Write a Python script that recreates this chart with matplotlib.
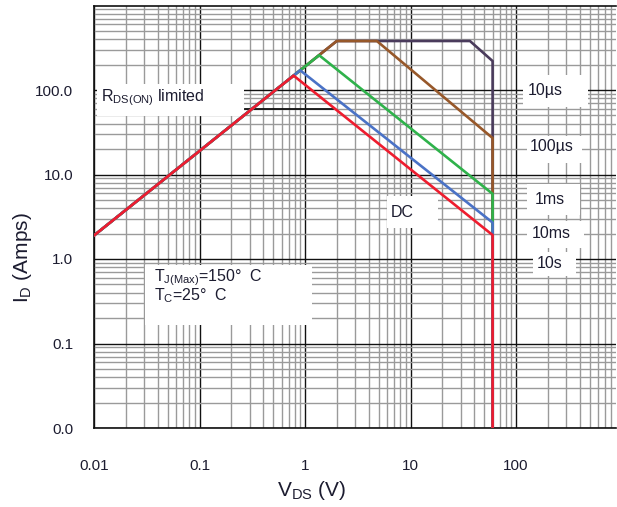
import matplotlib
matplotlib.use("Agg")
import matplotlib.pyplot as plt
from matplotlib.patches import Rectangle
from matplotlib.ticker import FixedLocator, FixedFormatter, LogLocator, NullFormatter

plt.rcParams['font.family'] = ['Liberation Sans', 'DejaVu Sans']
plt.rcParams['mathtext.fontset'] = 'custom'
plt.rcParams['mathtext.rm'] = 'Liberation Sans'
plt.rcParams['mathtext.it'] = 'Liberation Sans'

# ---- data (V_DS in volts, I_D in amps) ----
dc_v = [0.01, 0.78, 60, 60]
dc_i = [1.9, 148, 1.92, 0.01]
ms10_v = [0.01, 0.9, 60, 60]
ms10_i = [1.9, 171, 2.7, 0.01]
ms1_v = [0.01, 1.36, 60, 60]
ms1_i = [1.9, 258, 5.9, 0.01]
us100_v = [0.01, 2.0, 4.8, 60, 60]
us100_i = [1.9, 380, 380, 27, 0.01]
us10_v = [0.01, 2.0, 36.6, 60, 60]
us10_i = [1.9, 380, 380, 220, 0.01]
marker_v = [0.27, 1.84]
marker_i = [59, 59]

x_ticks = [0.01, 0.1, 1, 10, 100]
x_labels = ['0.01', '0.1', '1', '10', '100']
y_ticks = [0.01, 0.1, 1, 10, 100]
y_labels = ['0.0', '0.1', '1.0', '10.0', '100.0']

W, H = 617, 507
fig = plt.figure(figsize=(W / 100, H / 100), dpi=100)

def fx(px):
    return px / W

def fy(py):
    return 1 - py / H

ax_l, ax_r, ax_t, ax_b = 94, 616, 5.5, 428
ax = fig.add_axes([fx(ax_l), fy(ax_b), fx(ax_r - ax_l), (ax_b - ax_t) / H])
ax.set_xscale('log')
ax.set_yscale('log')
ax.set_xlim(0.01, 0.01 * 10 ** ((ax_r - ax_l) / 105.5))
ax.set_ylim(0.01, 1000)

ax.xaxis.set_major_locator(FixedLocator(x_ticks))
ax.xaxis.set_major_formatter(FixedFormatter(x_labels))
ax.yaxis.set_major_locator(FixedLocator(y_ticks))
ax.yaxis.set_major_formatter(FixedFormatter(y_labels))
ax.xaxis.set_minor_locator(LogLocator(base=10, subs=range(2, 10), numticks=20))
ax.yaxis.set_minor_locator(LogLocator(base=10, subs=range(2, 10), numticks=20))
ax.xaxis.set_minor_formatter(NullFormatter())
ax.yaxis.set_minor_formatter(NullFormatter())

txt_col = '#1c1c30'
ax.tick_params(which='both', length=0)
ax.tick_params(axis='x', pad=22, labelsize=11, labelcolor=txt_col)
ax.tick_params(axis='y', pad=15, labelsize=11, labelcolor=txt_col)

ax.set_axisbelow(True)
ax.grid(which='minor', color='#9a9a9a', linewidth=1.0)
ax.grid(which='major', color='#111111', linewidth=1.0)
for s in ['left', 'bottom', 'top']:
    ax.spines[s].set_color('#111111')
    ax.spines[s].set_linewidth(1.2)
ax.spines['right'].set_visible(False)

# white label boxes (pixel coords)
boxes = [
    (97, 84, 244, 116),
    (523, 75, 588, 107),
    (527, 136, 582, 163),
    (527, 184, 580, 215),
    (527, 221, 584, 248),
    (533, 252, 576, 276),
    (387, 196, 438, 228),
    (145, 265, 312, 325),
]
for x0, y0, x1, y1 in boxes:
    ax.add_patch(Rectangle((fx(x0), fy(y1)), fx(x1 - x0), (y1 - y0) / H,
                           transform=fig.transFigure, facecolor='white',
                           edgecolor='none', zorder=2, clip_on=False))

lw = 1.9
ax.plot(us10_v, us10_i, color='#4a3b5c', lw=lw, zorder=4)
ax.plot(us100_v, us100_i, color='#97582a', lw=lw, zorder=5)
ax.plot(ms1_v, ms1_i, color='#2fb24b', lw=lw, zorder=6)
ax.plot(ms10_v, ms10_i, color='#4a72c6', lw=lw, zorder=7)
ax.plot(dc_v, dc_i, color='#ee1c2e', lw=lw, zorder=8)
ax.plot(marker_v, marker_i, color='#111111', lw=1.3, zorder=3)

tk = dict(transform=fig.transFigure, color=txt_col, fontsize=11.5, zorder=9)
fig.text(fx(101), fy(98), r'R$_{\mathregular{DS(ON)}}$ limited', va='center', ha='left', **tk)
fig.text(fx(545), fy(90), '10µs', va='center', ha='center', **tk)
fig.text(fx(552), fy(147), '100µs', va='center', ha='center', **tk)
fig.text(fx(550), fy(199), '1ms', va='center', ha='center', **tk)
fig.text(fx(551), fy(234), '10ms', va='center', ha='center', **tk)
fig.text(fx(550), fy(263), '10s', va='center', ha='center', **tk)
fig.text(fx(402), fy(213), 'DC', va='center', ha='center', **tk)
fig.text(fx(154), fy(278), r'T$_{\mathregular{J(Max)}}$=150°  C', va='center', ha='left', **tk)
fig.text(fx(154), fy(296), r'T$_{\mathregular{C}}$=25°  C', va='center', ha='left', **tk)

fig.text(fx(312), fy(490), r'V$_{\mathregular{DS}}$ (V)', ha='center', va='center',
         fontsize=15, color=txt_col)
fig.text(fx(22), fy(258), r'I$_{\mathregular{D}}$ (Amps)', ha='center', va='center',
         rotation=90, fontsize=15, color=txt_col)

fig.savefig('out.png', dpi=100)
